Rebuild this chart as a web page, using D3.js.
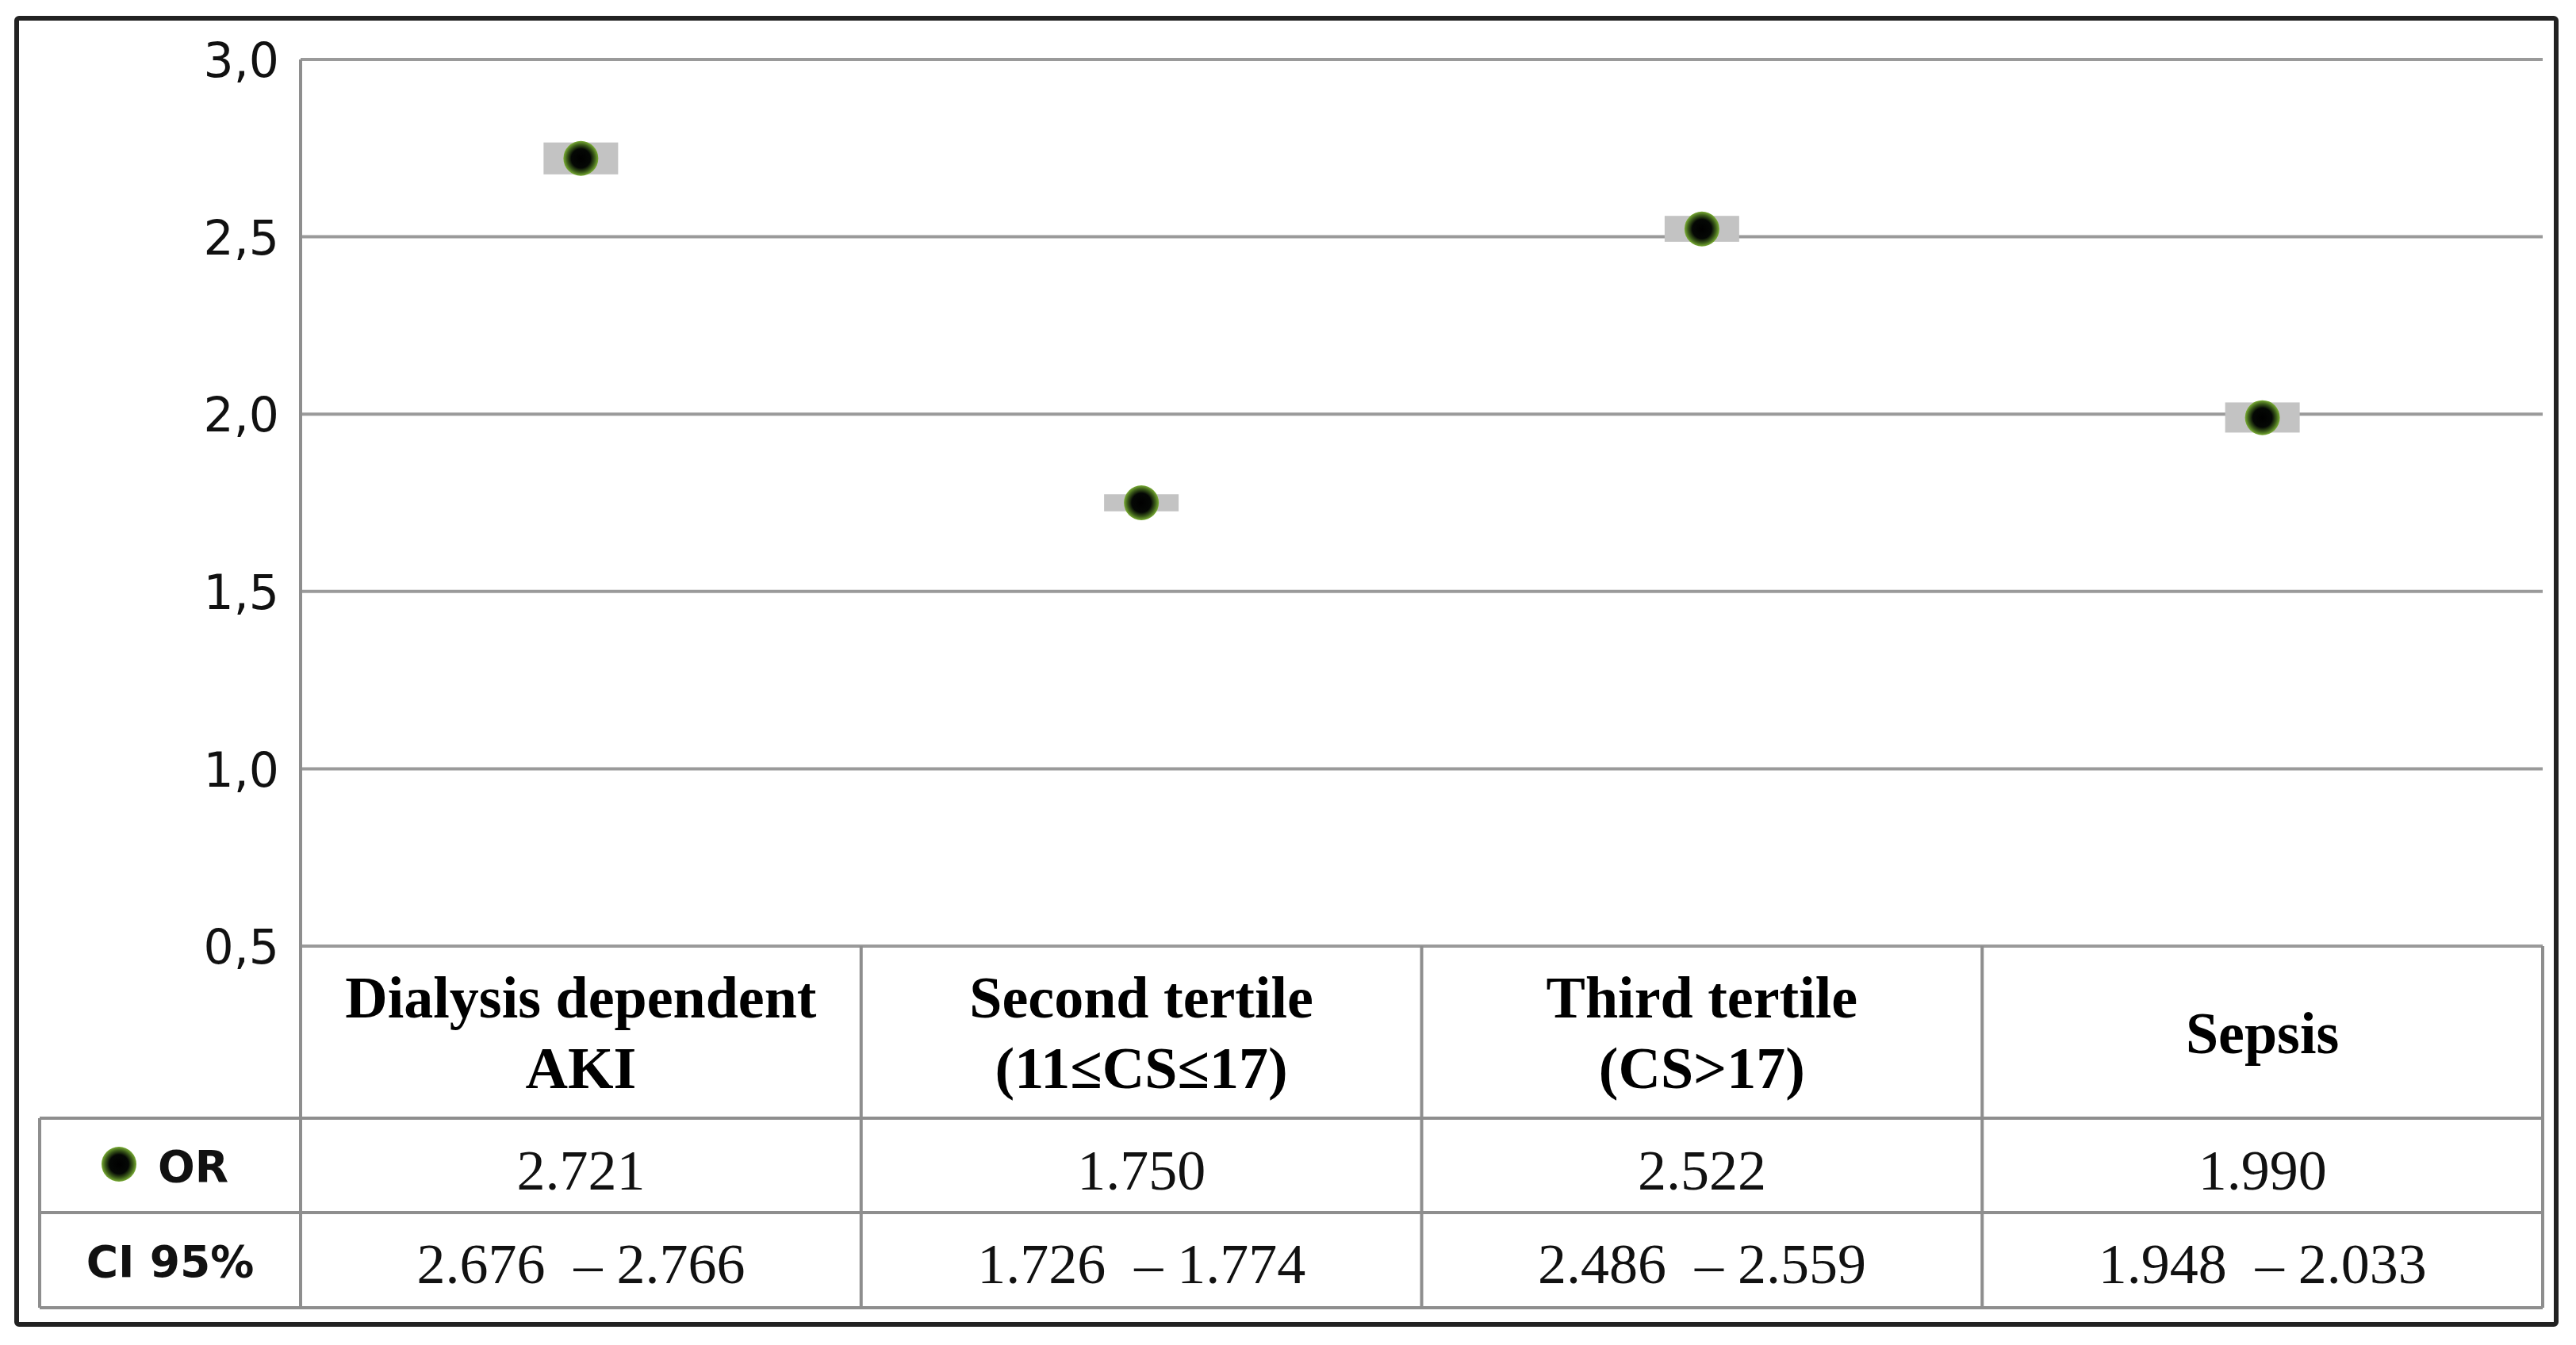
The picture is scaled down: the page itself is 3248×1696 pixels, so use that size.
<!DOCTYPE html>
<html>
<head>
<meta charset="utf-8">
<script src="https://cdn.jsdelivr.net/npm/d3@7"></script>
<style>
  html, body { margin: 0; padding: 0; background: #fff; }
  svg { display: block; }
</style>
</head>
<body>
<svg id="chart" width="3248" height="1696"></svg>
<script>
// ---- Data ----
const categories = ["Dialysis dependent AKI", "Second tertile (11≤CS≤17)", "Third tertile (CS>17)", "Sepsis"];
const categoryLines = [["Dialysis dependent", "AKI"], ["Second tertile", "(11≤CS≤17)"], ["Third tertile", "(CS>17)"], ["Sepsis"]];
const orValues = [2.721, 1.750, 2.522, 1.990];
const ciLow = [2.676, 1.726, 2.486, 1.948];
const ciHigh = [2.766, 1.774, 2.559, 2.033];
const orLabels = ["2.721", "1.750", "2.522", "1.990"];
const ciLabels = ["2.676\u00A0 \u2013 2.766", "1.726\u00A0 \u2013 1.774", "2.486\u00A0 \u2013 2.559", "1.948\u00A0 \u2013 2.033"];
const yTicks = [0.5, 1.0, 1.5, 2.0, 2.5, 3.0];
const yTickLabels = ["0,5", "1,0", "1,5", "2,0", "2,5", "3,0"];
const rowLabels = ["OR", "CI 95%"];

// ---- Layout ----
const plotLeft = 379, plotRight = 3206;
const plotTop = 75, plotBottom = 1193;
const tableLeft = 50;
const headerBottom = 1410, orBottom = 1529, ciBottom = 1649;

const svg = d3.select("#chart");
const defs = svg.append("defs");
const grad = defs.append("radialGradient").attr("id", "dotGrad");
grad.append("stop").attr("offset", "0%").attr("stop-color", "#000");
grad.append("stop").attr("offset", "55%").attr("stop-color", "#050805");
grad.append("stop").attr("offset", "80%").attr("stop-color", "#3d5e1a");
grad.append("stop").attr("offset", "100%").attr("stop-color", "#7aad35");

const x = d3.scaleBand().domain(categories).range([plotLeft, plotRight]).padding(0);
const y = d3.scaleLinear().domain([0.5, 3.0]).range([plotBottom, plotTop]);

// Outer frame
svg.append("rect")
  .attr("x", 21).attr("y", 23).attr("width", 3202).attr("height", 1647)
  .attr("rx", 3)
  .attr("fill", "#fff").attr("stroke", "#222").attr("stroke-width", 6);

// Gridlines
svg.append("g").selectAll("line").data(yTicks).join("line")
  .attr("x1", plotLeft).attr("x2", plotRight)
  .attr("y1", d => y(d)).attr("y2", d => y(d))
  .attr("stroke", "#9a9a9a").attr("stroke-width", 4);

// Y axis labels via d3 axis
const yAxis = d3.axisLeft(y).tickValues(yTicks)
  .tickFormat((d, i) => yTickLabels[i]).tickSize(0).tickPadding(0);
const yg = svg.append("g").attr("transform", `translate(${plotLeft - 27},0)`).call(yAxis);
yg.select(".domain").remove();
yg.selectAll("text")
  .attr("font-family", "'DejaVu Sans', sans-serif")
  .attr("font-size", 60).attr("fill", "#111").attr("dy", "0.36em");

// Table lines
const tableColor = "#8e8e8e";
const tg = svg.append("g").attr("stroke", tableColor).attr("stroke-width", 4);
tg.append("line").attr("x1", tableLeft).attr("x2", plotRight).attr("y1", headerBottom).attr("y2", headerBottom);
tg.append("line").attr("x1", tableLeft).attr("x2", plotRight).attr("y1", orBottom).attr("y2", orBottom);
tg.append("line").attr("x1", tableLeft).attr("x2", plotRight).attr("y1", ciBottom).attr("y2", ciBottom);
tg.append("line").attr("x1", tableLeft).attr("x2", tableLeft).attr("y1", headerBottom).attr("y2", ciBottom);
tg.append("line").attr("x1", plotLeft).attr("x2", plotLeft).attr("y1", plotTop).attr("y2", ciBottom);
tg.selectAll(".vcol").data(categories).join("line").attr("class", "vcol")
  .attr("x1", d => x(d) + x.bandwidth()).attr("x2", d => x(d) + x.bandwidth())
  .attr("y1", plotBottom).attr("y2", ciBottom);

// CI boxes
svg.append("g").selectAll("rect").data(categories).join("rect")
  .attr("x", d => x(d) + x.bandwidth() / 2 - 47)
  .attr("width", 94)
  .attr("y", (d, i) => y(ciHigh[i]))
  .attr("height", (d, i) => Math.max(y(ciLow[i]) - y(ciHigh[i]), 4))
  .attr("fill", "#c3c3c3");

// OR points
svg.append("g").selectAll("circle").data(categories).join("circle")
  .attr("cx", d => x(d) + x.bandwidth() / 2)
  .attr("cy", (d, i) => y(orValues[i]))
  .attr("r", 22)
  .attr("fill", "url(#dotGrad)");

// Header texts
const headCenter = (plotBottom + headerBottom) / 2;
const lineGap = 89;
svg.append("g").selectAll("text").data(categories).join("text")
  .attr("x", d => x(d) + x.bandwidth() / 2)
  .attr("text-anchor", "middle")
  .attr("font-family", "'Liberation Serif', 'Times New Roman', serif")
  .attr("font-weight", "bold").attr("font-size", 74).attr("fill", "#000")
  .each(function(d, i) {
    const lines = categoryLines[i];
    const n = lines.length;
    d3.select(this).selectAll("tspan").data(lines).join("tspan")
      .attr("x", x(d) + x.bandwidth() / 2)
      .attr("y", (l, j) => headCenter + 26 + (j - (n - 1) / 2) * lineGap)
      .text(l => l);
  });

// OR value row
svg.append("g").selectAll("text").data(categories).join("text")
  .attr("x", d => x(d) + x.bandwidth() / 2)
  .attr("y", 1500)
  .attr("text-anchor", "middle")
  .attr("font-family", "'Liberation Serif', 'Times New Roman', serif")
  .attr("font-size", 72).attr("fill", "#111")
  .text((d, i) => orLabels[i]);

// CI value row
svg.append("g").selectAll("text").data(categories).join("text")
  .attr("x", d => x(d) + x.bandwidth() / 2)
  .attr("y", 1618)
  .attr("text-anchor", "middle")
  .attr("font-family", "'Liberation Serif', 'Times New Roman', serif")
  .attr("font-size", 72).attr("fill", "#111")
  .text((d, i) => ciLabels[i]);

// Row labels
const labelFont = "'DejaVu Sans', sans-serif";
svg.append("circle").attr("cx", 150).attr("cy", 1468).attr("r", 22).attr("fill", "url(#dotGrad)");
svg.append("text").attr("x", 199).attr("y", 1490)
  .attr("font-family", labelFont)
  .attr("font-weight", "bold").attr("font-size", 55).attr("fill", "#111")
  .text(rowLabels[0]);
svg.append("text").attr("x", (tableLeft + plotLeft) / 2).attr("y", 1610)
  .attr("text-anchor", "middle")
  .attr("font-family", labelFont)
  .attr("font-weight", "bold").attr("font-size", 55).attr("fill", "#111")
  .text(rowLabels[1]);
</script>
</body>
</html>
